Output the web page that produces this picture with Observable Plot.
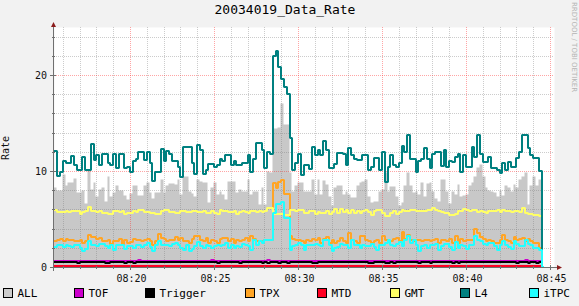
<!DOCTYPE html>
<html>
<head>
<meta charset="utf-8">
<script src="https://cdn.jsdelivr.net/npm/d3@7"></script>
<script src="https://cdn.jsdelivr.net/npm/@observablehq/plot@0.6"></script>
<style>
  html, body { margin: 0; padding: 0; background: #f2f2f2; }
  #chart { width: 579px; height: 306px; overflow: hidden; }
  svg { display: block; }
</style>
</head>
<body>
<div id="chart"></div>
<script>
// ---------------- data ----------------
const chartTitle = "20034019_Data_Rate";
const yLabel = "Rate";
const watermark = "RRDTOOL / TOBI OETIKER";
const startTime = "08:15:30";
const stepSeconds = 10;
const xTickLabels = ["08:20", "08:25", "08:30", "08:35", "08:40", "08:45"];
const yTickValues = [0, 10, 20];
const seriesNames = ["ALL", "TOF", "Trigger", "TPX", "MTD", "GMT", "L4", "iTPC"];

const ALL = [
  8.2, 7.9, 7.9, 9.6, 8.4, 8.7, 8.7, 9.2, 7.7, 7.7,
  7.9, 6.6, 10.1, 8.0, 8.7, 7.3, 8.0, 8.2, 6.8, 9.4,
  7.3, 7.7, 8.4, 7.9, 7.9, 7.4, 7.0, 7.6, 8.4, 8.4,
  7.4, 7.4, 8.4, 8.8, 7.7, 7.1, 7.7, 7.7, 9.1, 7.7,
  8.4, 8.6, 8.6, 8.5,
  9.07, 7.5, 9.4, 9.4, 7.86, 7.6, 7.3, 9.07, 8.9, 8.7,
  8.7, 6.65, 8.2, 8.7, 7.5, 7.86, 7.5, 7.0, 8.9, 8.9,
  8.9, 7.7, 8.0, 7.86, 7.86, 9.07, 7.5, 7.86, 7.86, 6.5,
  8.2, 6.5, 9.9, 9.75,
  14.4, 14.4, 14.5, 17.0, 14.8, 14.8, 9.75, 7.86, 8.4,
  8.7, 8.7, 7.86, 7.86, 7.86, 9.1, 7.5, 9.1, 7.5, 9.0,
  8.55, 7.3, 6.4, 8.2, 8.4, 8.4, 7.5, 7.86, 7.5, 7.2,
  7.2, 8.4, 8.8, 8.9, 9.1, 7.3, 6.7, 6.8, 6.8, 7.86,
  8.0, 9.8, 7.86, 8.3, 8.3, 7.3, 6.4, 6.7, 8.4, 9.75,
  8.4, 7.7, 7.86, 7.5,
  8.7, 7.3, 8.6, 8.7, 7.86, 7.06, 6.8, 9.1, 9.1, 7.86,
  6.6, 7.86, 7.5, 8.55, 7.3, 7.4, 7.5, 8.4, 8.7, 9.4,
  10.3, 10.6, 9.4, 8.2, 7.9, 7.86, 7.7, 7.3, 7.9, 7.4,
  8.4, 8.2, 7.86, 8.55, 8.2, 9.07, 9.4, 9.8, 6.5, 8.4,
  9.4, 8.4, 9.1
];

const TOF = [
  0.63, 0.63, 0.63, 0.63, 0.63, 0.63, 0.63, 0.63, 0.63, 0.63,
  0.63, 0.63, 0.63, 0.63, 0.63, 0.63, 0.63, 0.63, 0.63, 0.63,
  0.63, 0.63, 0.63, 0.63, 0.63, 0.63, 0.63, 0.63, 0.63, 0.63,
  0.73, 0.63, 0.63, 0.63, 0.63, 0.63, 0.63, 0.63, 0.63, 0.63,
  0.63, 0.63, 0.63, 0.63, 0.63, 0.63, 0.63, 0.63, 0.63, 0.63,
  0.63, 0.63, 0.63, 0.63, 0.63, 0.63, 0.73, 0.63, 0.63, 0.63,
  0.63, 0.63, 0.63, 0.63, 0.63, 0.63, 0.63, 0.63, 0.63, 0.63,
  0.63, 0.63, 0.63, 0.63, 0.63, 0.63, 0.73, 0.63, 0.63, 0.63,
  0.63, 0.63, 0.63, 0.63, 0.63, 0.63, 0.63, 0.63, 0.63, 0.63,
  0.63, 0.63, 0.63, 0.63, 0.63, 0.63, 0.63, 0.63, 0.63, 0.63,
  0.63, 0.63, 0.63, 0.63, 0.63, 0.63, 0.63, 0.63, 0.63, 0.63,
  0.63, 0.63, 0.63, 0.63, 0.63, 0.63, 0.63, 0.63, 0.63, 0.63,
  0.63, 0.63, 0.63, 0.63, 0.63, 0.63, 0.63, 0.63, 0.63, 0.63,
  0.63, 0.63, 0.63, 0.63, 0.63, 0.63, 0.63, 0.63, 0.63, 0.63,
  0.63, 0.63, 0.63, 0.63, 0.63, 0.63, 0.63, 0.63, 0.63, 0.63,
  0.63, 0.63, 0.63, 0.63, 0.63, 0.63, 0.63, 0.63, 0.63, 0.63,
  0.63, 0.63, 0.63, 0.63, 0.63, 0.63, 0.63, 0.63, 0.73, 0.63,
  0.63, 0.63, 0.63, 0.63
];

const Trigger = [
  0.52, 0.52, 0.52, 0.52, 0.52, 0.52, 0.52, 0.52, 0.42, 0.52,
  0.52, 0.52, 0.52, 0.52, 0.52, 0.52, 0.52, 0.52, 0.42, 0.42,
  0.52, 0.52, 0.52, 0.52, 0.52, 0.42, 0.52, 0.52, 0.42, 0.52,
  0.52, 0.52, 0.52, 0.52, 0.52, 0.52, 0.52, 0.52, 0.52, 0.52,
  0.52, 0.52, 0.52, 0.52, 0.52, 0.52, 0.52, 0.52, 0.52, 0.52,
  0.52, 0.52, 0.52, 0.52, 0.52, 0.52, 0.52, 0.52, 0.42, 0.52,
  0.52, 0.52, 0.52, 0.52, 0.52, 0.52, 0.42, 0.52, 0.52, 0.52,
  0.52, 0.52, 0.52, 0.52, 0.42, 0.52, 0.42, 0.52, 0.52, 0.52,
  0.42, 0.52, 0.52, 0.42, 0.52, 0.52, 0.52, 0.52, 0.52, 0.52,
  0.52, 0.52, 0.42, 0.42, 0.52, 0.52, 0.52, 0.52, 0.52, 0.52,
  0.52, 0.52, 0.52, 0.52, 0.52, 0.52, 0.52, 0.52, 0.52, 0.52,
  0.52, 0.52, 0.42, 0.42, 0.52, 0.52, 0.52, 0.52, 0.42, 0.42,
  0.52, 0.42, 0.52, 0.52, 0.52, 0.52, 0.52, 0.52, 0.52, 0.52,
  0.42, 0.52, 0.52, 0.52, 0.42, 0.52, 0.52, 0.52, 0.52, 0.52,
  0.52, 0.52, 0.42, 0.52, 0.42, 0.52, 0.52, 0.52, 0.52, 0.52,
  0.52, 0.52, 0.52, 0.52, 0.52, 0.52, 0.52, 0.52, 0.52, 0.52,
  0.52, 0.52, 0.52, 0.52, 0.52, 0.42, 0.52, 0.52, 0.52, 0.42,
  0.52, 0.52, 0.42, 0.52
];

const TPX = [
  2.68, 2.85, 2.9, 2.68, 2.9, 2.8, 2.8, 2.68, 2.68, 2.85,
  2.5, 2.7, 3.37, 3.1, 3.1, 2.95, 3.0, 2.68, 2.68, 2.85,
  2.4, 2.75, 2.68, 2.9, 2.33, 2.85, 2.5, 2.6, 2.9, 2.85,
  2.85, 2.68, 2.85, 2.9, 2.68, 2.33, 2.68, 3.44, 3.02, 2.9,
  2.68, 2.85, 2.85, 3.1,
  2.85, 3.0, 2.68, 2.68, 2.5, 2.9, 3.2, 3.2, 2.85, 2.68,
  3.02, 2.5, 2.85, 2.68, 2.55, 2.9, 3.02, 3.02, 2.68, 2.9,
  2.5, 2.85, 2.68, 2.85, 3.02, 2.68, 3.2, 2.9, 2.68, 2.75,
  2.68, 2.85, 2.85, 2.85,
  8.7, 8.2, 8.9, 9.1, 7.6, 7.6, 3.2, 2.9, 2.85,
  2.85, 2.68, 2.45, 2.85, 2.68, 2.9, 2.85, 3.02, 2.5, 2.9,
  3.1, 2.5, 2.85, 2.45, 2.68, 3.02, 2.68, 2.45, 3.54, 2.85,
  2.68, 2.45, 3.2, 3.2, 2.85, 2.68, 2.45, 2.75, 2.85, 2.5,
  3.2, 2.85, 2.68, 2.68, 2.9, 3.02, 2.68, 3.6, 2.9, 3.37,
  2.85, 2.68, 2.85, 2.85,
  2.68, 2.85, 2.85, 2.68, 2.85, 2.9, 2.45, 2.85, 2.85, 2.68,
  2.9, 2.45, 3.2, 2.5, 2.9, 2.68, 2.85, 2.85, 2.85, 3.95,
  3.5, 3.1, 2.9, 2.68, 2.85, 2.68, 2.45, 2.45, 2.85, 3.37,
  2.85, 2.68, 2.5, 3.1, 2.85, 2.9, 3.02, 2.68, 2.9, 2.68,
  2.5, 2.5, 2.0,
  0
];

const MTD = [
  0.1, 0.1, 0.1, 0.1, 0.1, 0.1, 0.1, 0.1, 0.1, 0.1,
  0.1, 0.1, 0.1, 0.1, 0.1, 0.1, 0.1, 0.1, 0.1, 0.1,
  0.1, 0.1, 0.1, 0.1, 0.1, 0.1, 0.1, 0.1, 0.1, 0.1,
  0.1, 0.1, 0.1, 0.1, 0.1, 0.1, 0.1, 0.1, 0.1, 0.1,
  0.1, 0.1, 0.1, 0.1, 0.1, 0.1, 0.1, 0.1, 0.1, 0.1,
  0.1, 0.1, 0.1, 0.1, 0.1, 0.1, 0.1, 0.1, 0.1, 0.1,
  0.1, 0.1, 0.1, 0.1, 0.1, 0.1, 0.1, 0.1, 0.1, 0.1,
  0.1, 0.1, 0.1, 0.1, 0.1, 0.1, 0.1, 0.1, 0.1, 0.1,
  0.1, 0.1, 0.1, 0.1, 0.1, 0.1, 0.1, 0.1, 0.1, 0.1,
  0.1, 0.1, 0.1, 0.1, 0.1, 0.1, 0.1, 0.1, 0.1, 0.1,
  0.1, 0.1, 0.1, 0.1, 0.1, 0.1, 0.1, 0.1, 0.1, 0.1,
  0.1, 0.1, 0.1, 0.1, 0.1, 0.1, 0.1, 0.1, 0.1, 0.1,
  0.1, 0.1, 0.1, 0.1, 0.1, 0.1, 0.1, 0.1, 0.1, 0.1,
  0.1, 0.1, 0.1, 0.1, 0.1, 0.1, 0.1, 0.1, 0.1, 0.1,
  0.1, 0.1, 0.1, 0.1, 0.1, 0.1, 0.1, 0.1, 0.1, 0.1,
  0.1, 0.1, 0.1, 0.1, 0.1, 0.1, 0.1, 0.1, 0.1, 0.1,
  0.1, 0.1, 0.1, 0.1, 0.1, 0.1, 0.1, 0.1, 0.1, 0.1,
  0.1, 0.1, 0.1, 0.1
];

const GMT = [
  5.96, 5.68, 5.68, 5.68, 5.85, 5.68, 5.85, 5.79, 5.79, 5.55,
  5.68, 5.79, 6.2, 5.79, 5.79, 5.68, 5.79, 5.6, 5.6, 5.5,
  5.5, 5.79, 5.85, 5.68, 5.79, 5.55, 5.6, 5.6, 5.85, 5.68,
  5.9, 5.96, 5.68, 5.68, 5.6, 5.6, 5.5, 5.5, 5.79, 5.96,
  5.96, 5.75, 5.75, 5.6,
  5.6, 5.79, 5.79, 5.68, 5.68, 5.79, 5.85, 5.68, 5.75, 5.79,
  5.6, 5.6, 5.85, 5.6, 5.55, 5.96, 5.79, 5.79, 5.68, 5.75,
  5.85, 5.55, 5.68, 5.79, 5.68, 5.6, 5.79, 5.85, 5.68, 5.79,
  5.68, 5.79, 6.1, 6.1, 5.55, 5.55, 5.55, 5.55, 5.44, 5.44,
  5.9, 5.9, 5.85,
  5.9, 5.9, 5.6, 5.6, 5.79, 5.79, 5.55, 5.68, 5.6, 5.6,
  5.79, 5.55, 5.68, 6.0, 5.6, 6.0, 5.68, 5.9, 5.6, 5.9,
  5.6, 5.79, 5.6, 5.79, 5.9, 5.68, 5.44, 5.79, 5.9, 5.9,
  5.6, 5.34, 5.34, 5.6, 5.79, 5.55, 5.68, 5.9, 5.79, 5.79,
  5.96, 5.96, 5.79, 5.85,
  5.79, 5.79, 5.96, 5.96, 6.1, 5.9, 5.85, 5.68, 5.6, 5.6,
  5.44, 5.44, 5.55, 5.79, 5.85, 6.0, 5.9, 5.79, 5.9, 5.9,
  5.68, 5.79, 5.68, 5.6, 5.79, 5.85, 5.79, 5.9, 5.68, 5.9,
  5.79, 5.79, 5.68, 5.79, 5.85, 5.68, 6.1, 5.6, 5.55, 5.55,
  5.44, 5.44, 5.34
];

const L4 = [
  12.1, 9.5, 9.9, 11.0, 10.8, 10.8, 11.6, 10.6, 10.1, 10.1,
  11.5, 10.1, 10.1, 12.8, 11.1, 11.7, 10.6, 11.75, 11.75, 10.8,
  10.6, 11.8, 10.3, 11.8, 11.8, 10.3, 10.45, 9.9, 11.0, 11.2,
  12.0, 12.0, 11.1, 12.0, 10.8, 9.0, 9.9, 9.9, 12.3, 11.0,
  12.1, 11.8, 11.0, 11.0, 10.45, 9.4, 12.5, 12.5, 12.5, 10.8,
  9.7, 12.7, 12.2, 9.7, 10.1, 10.7, 10.7, 10.45, 10.6, 11.3,
  11.0, 11.66, 11.66, 10.6, 11.0, 10.6, 10.6, 10.8, 10.8, 11.66,
  9.9, 11.3, 12.9, 12.9, 12.2, 10.3, 12.0, 11.8,
  22.0, 22.5, 20.8, 19.6, 18.7, 18.0, 13.4, 10.1, 10.8,
  11.8, 9.6, 10.6, 10.6, 10.2, 12.45, 11.65, 12.2, 11.65, 13.1,
  12.2, 10.3, 10.3, 10.7, 11.9, 11.9, 11.8, 10.6, 12.35, 11.65,
  11.3, 11.1, 11.1, 11.65, 11.65, 10.1, 10.45, 11.4, 11.4, 10.1,
  12.0, 8.9, 10.45, 11.65, 10.6, 10.45, 10.8, 12.6, 12.0, 13.8,
  11.3, 11.3, 9.9, 11.0,
  11.3, 12.35, 11.3, 10.3, 11.75, 12.0, 12.0, 10.5, 12.2, 10.45,
  11.0, 10.9, 11.5, 11.8, 9.9, 11.65, 10.45, 10.45, 12.5, 11.5,
  13.7, 11.8, 10.9, 10.9, 11.5, 10.3, 10.3, 10.1, 9.75, 10.8,
  10.1, 10.9, 10.45, 10.45, 11.4, 12.0, 13.8, 13.8, 12.35, 11.65,
  11.4, 11.4, 10.0,
  0
];

const iTPC = [
  2.1, 2.25, 2.33, 2.1, 2.33, 2.16, 2.1, 2.25, 2.25, 1.99,
  1.64, 1.9, 2.68, 2.25, 2.33, 2.16, 2.4, 2.4, 2.16, 2.0,
  2.33, 1.81, 2.25, 2.33, 2.33, 1.9, 2.16, 2.16, 1.99, 2.33,
  2.33, 2.1, 2.25, 2.5, 2.1, 1.64, 2.33, 2.68, 2.33, 2.25,
  2.25, 2.16, 2.4, 2.5,
  2.33, 1.99, 1.81, 2.33, 1.64, 1.9, 2.16, 2.57, 2.16, 1.99,
  2.33, 2.16, 1.99, 2.16, 2.33, 2.16, 2.33, 2.5, 1.99, 2.33,
  1.99, 2.16, 2.1, 2.4, 2.33, 2.16, 1.81, 2.85, 2.33, 2.68,
  2.5, 2.85, 2.85, 2.85,
  5.6, 6.6, 6.6, 6.8, 5.1, 5.1, 1.8, 2.2, 2.3,
  2.5, 2.25, 1.81, 2.33, 2.25, 2.25, 2.4, 2.33, 2.16, 2.77,
  2.77, 2.33, 1.64, 1.99, 2.07, 2.4, 2.25, 2.25, 1.99, 2.85,
  2.33, 2.33, 1.99, 2.25, 2.16, 2.16, 2.4, 2.07, 1.75, 2.33,
  2.33, 2.5, 2.77, 2.33, 2.16, 2.4, 2.6, 2.16, 2.85, 3.2,
  2.5, 2.85, 2.25, 1.64,
  2.16, 2.33, 1.99, 2.25, 2.25, 2.4, 1.75, 2.16, 2.4, 2.4,
  2.07, 1.81, 2.6, 1.99, 2.33, 2.16, 1.9, 2.25, 2.25, 3.2,
  2.85, 2.68, 2.4, 2.25, 2.5, 2.5, 2.16, 1.81, 2.33, 2.68,
  2.25, 2.07, 1.9, 2.68, 2.4, 2.16, 2.16, 2.85, 2.4, 2.25,
  1.99, 1.99, 1.75,
  0
];

// ---------------- styles / layout ----------------
const colors = {
  ALL: "#c8c8c8", TOF: "#cc00cc", Trigger: "#000000", TPX: "#ffa526",
  MTD: "#ff0022", GMT: "#ffff66", L4: "#008080", iTPC: "#22ffff"
};
const swatchFill = Object.assign({}, colors, { ALL: "#cccccc" });
const W = 579, H = 306, mL = 54, mR = 25, mT = 27, mB = 39;
const mono = "'DejaVu Sans Mono', monospace";

const day = Date.UTC(2020, 0, 1);
function hm(s) {
  const p = s.split(":").map(Number);
  return day + ((p[0] * 60 + p[1]) * 60 + (p[2] || 0)) * 1000;
}
const t0 = hm(startTime);
function rows(arr) {
  const r = arr.map((v, i) => ({ t: new Date(t0 + i * stepSeconds * 1000), v }));
  r.push({ t: new Date(t0 + arr.length * stepSeconds * 1000), v: arr[arr.length - 1] });
  return r;
}

// x scale anchored on the first and last labelled ticks
const tA = hm(xTickLabels[0]), tB = hm(xTickLabels[xTickLabels.length - 1]);
const pA = 130, pB = 550;
const k = (pB - pA) / (tB - tA);
const xDomain = [new Date(tA - (pA - mL) / k), new Date(tB + (W - mR - pB) / k)];
const majorX = xTickLabels.map(s => new Date(hm(s)));
const majorSet = new Set(majorX.map(d => +d));
const minorX = d3.utcMinute.range(xDomain[0], xDomain[1]).filter(d => !majorSet.has(+d));
const yMax = 25;
const majorY = yTickValues.filter(v => v > 0);
const minorY = d3.range(2, yMax, 2).filter(v => v % 10 !== 0);

const gridMinor = "rgba(120,120,120,0.38)";
const gridMajor = "rgba(255,40,40,0.42)";

const lineOpts = (name) => ({
  x: "t", y: "v", curve: "step-after", stroke: colors[name], strokeWidth: 2,
  strokeLinejoin: "miter", strokeLinecap: "butt", dx: -0.5, dy: -0.5
});

const chart = Plot.plot({
  width: W, height: H,
  marginLeft: mL, marginRight: mR, marginTop: mT, marginBottom: mB,
  style: { background: "transparent", overflow: "visible" },
  x: { type: "utc", domain: xDomain, round: true, axis: null },
  y: { domain: [0, yMax], round: true, axis: null },
  marks: [
    Plot.frame({ fill: "#ffffff", stroke: "none" }),
    Plot.areaY(rows(ALL), { x: "t", y: "v", curve: "step-after", fill: colors.ALL, dx: -0.5, dy: -0.5 }),
    Plot.ruleY(minorY, { stroke: gridMinor, strokeDasharray: "1,1" }),
    Plot.ruleX(minorX, { stroke: gridMinor, strokeDasharray: "1,1" }),
    Plot.ruleY(majorY, { stroke: gridMajor, strokeDasharray: "1,1" }),
    Plot.ruleX(majorX, { stroke: gridMajor, strokeDasharray: "1,1" }),
    Plot.lineY(rows(TOF), lineOpts("TOF")),
    Plot.lineY(rows(Trigger), lineOpts("Trigger")),
    Plot.lineY(rows(TPX), lineOpts("TPX")),
    Plot.lineY(rows(MTD), lineOpts("MTD")),
    Plot.lineY(rows(GMT), lineOpts("GMT")),
    Plot.lineY(rows(L4), lineOpts("L4")),
    Plot.lineY(rows(iTPC), lineOpts("iTPC"))
  ]
});
document.getElementById("chart").appendChild(chart);

// ---------------- axes, labels, title, legend ----------------
const xs = d3.scaleUtc().domain(xDomain).range([mL, W - mR]);
const ys = d3.scaleLinear().domain([0, yMax]).range([H - mB, mT]);
const X = d => Math.round(xs(d));
const Y = v => Math.round(ys(v));
const svg = d3.select(chart);
const g = svg.append("g").attr("text-anchor", "start");
const axisColor = "#707070";
const arrowColor = "#8c1c1c";
const y0 = Y(0), xAxis = mL - 1;

// minor & major ticks
minorX.forEach(d => g.append("line").attr("x1", X(d) + 0.5).attr("x2", X(d) + 0.5)
  .attr("y1", y0 - 1).attr("y2", y0 + 2).attr("stroke", axisColor));
majorX.forEach(d => g.append("line").attr("x1", X(d) + 0.5).attr("x2", X(d) + 0.5)
  .attr("y1", y0 - 2).attr("y2", y0 + 3).attr("stroke", axisColor));
minorY.forEach(v => g.append("line").attr("y1", Y(v) + 0.5).attr("y2", Y(v) + 0.5)
  .attr("x1", xAxis - 1).attr("x2", xAxis + 2).attr("stroke", axisColor));
yTickValues.forEach(v => g.append("line").attr("y1", Y(v) + 0.5).attr("y2", Y(v) + 0.5)
  .attr("x1", xAxis - 3).attr("x2", xAxis + 3).attr("stroke", axisColor));

// axis lines
g.append("line").attr("x1", xAxis + 0.5).attr("x2", xAxis + 0.5)
  .attr("y1", y0 + 4).attr("y2", mT - 1).attr("stroke", axisColor);
g.append("line").attr("x1", xAxis - 3).attr("x2", W - mR + 3)
  .attr("y1", y0 + 0.5).attr("y2", y0 + 0.5).attr("stroke", axisColor);
// arrows
g.append("path").attr("d", `M${xAxis - 2},${mT} L${xAxis + 3},${mT} L${xAxis + 0.5},${mT - 5} Z`).attr("fill", arrowColor);
g.append("path").attr("d", `M${W - mR + 3},${y0 - 2} L${W - mR + 3},${y0 + 3} L${W - mR + 8},${y0 + 0.5} Z`).attr("fill", arrowColor);

// tick labels
majorX.forEach((d, i) => g.append("text").attr("x", X(d) + 1.5).attr("y", y0 + 14.5)
  .attr("text-anchor", "middle").attr("font-family", mono).attr("font-size", 10)
  .attr("fill", "#111").text(xTickLabels[i]));
yTickValues.forEach(v => g.append("text").attr("x", 47).attr("y", Y(v) + 4)
  .attr("text-anchor", "end").attr("font-family", mono).attr("font-size", 10)
  .attr("fill", "#111").text(String(v)));

// vertical axis label at the left edge
g.append("text").attr("transform", `translate(9,${(mT + y0) / 2 + 1}) rotate(-90)`)
  .attr("text-anchor", "middle").attr("font-family", mono).attr("font-size", 10)
  .attr("fill", "#111").text(yLabel);

// title
g.append("text").attr("x", 285).attr("y", 13.5).attr("text-anchor", "middle")
  .attr("font-family", mono).attr("font-size", 13).attr("fill", "#000").text(chartTitle);

// watermark
g.append("text").attr("transform", "translate(571.5,2) rotate(90)")
  .attr("text-anchor", "start")
  .attr("font-family", "'DejaVu Sans', sans-serif").attr("font-size", 7)
  .attr("fill", "#b4b4b4").text(watermark);

// legend
const legendX = [3, 74, 145, 245, 317, 390, 460, 529];
seriesNames.forEach((name, i) => {
  const x = legendX[i];
  g.append("rect").attr("x", x + 0.5).attr("y", 288.5).attr("width", 9).attr("height", 9)
    .attr("fill", swatchFill[name]).attr("stroke", "#000").attr("stroke-width", 1);
  g.append("text").attr("x", x + 14.5).attr("y", 297).attr("text-anchor", "start")
    .attr("font-family", mono).attr("font-size", 11).attr("fill", "#000").text(name);
});
</script>
</body>
</html>
